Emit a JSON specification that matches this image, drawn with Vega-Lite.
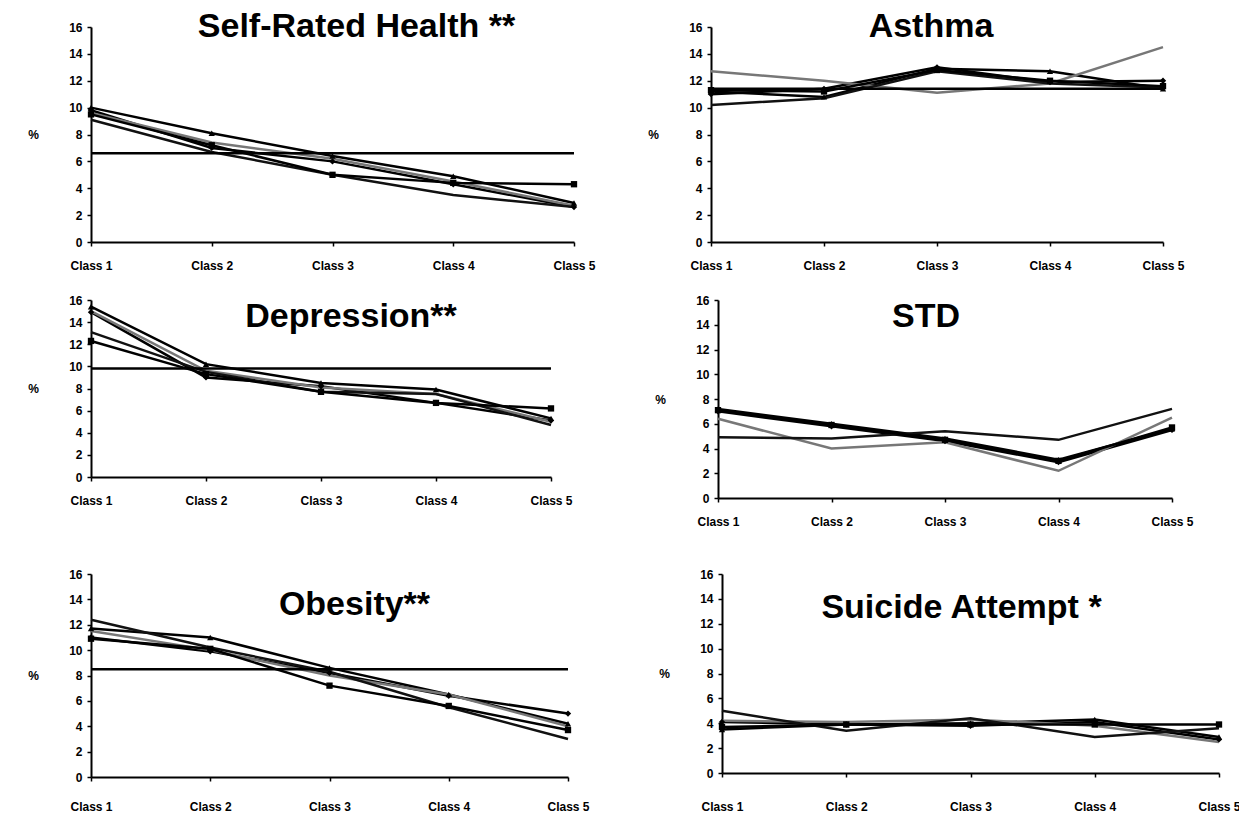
{
"$schema": "https://vega.github.io/schema/vega-lite/v6.json",
"background": "white",
"padding": {"left": 27, "top": 10, "right": 0, "bottom": 5},
"config": {
  "view": {"stroke": null},
  "font": "Liberation Sans",
  "axis": {"domainColor": "black", "domainWidth": 2, "tickColor": "black", "tickWidth": 1.5, "tickSize": 4, "labelFont": "Liberation Sans", "labelFontWeight": "bold", "labelFontSize": 12, "labelColor": "black", "grid": false, "titleFont": "Liberation Sans", "titleFontWeight": "bold", "titleFontSize": 12, "titleColor": "black"},
  "title": {"font": "Liberation Sans", "fontSize": 34, "fontWeight": "bold", "color": "black", "anchor": "middle", "frame": "group", "baseline": "alphabetic"}
},
"datasets": {
"d": [
{"panel":"SRH","series":"S1","class":"Class 1","value":10.0},{"panel":"SRH","series":"S1","class":"Class 2","value":8.1},{"panel":"SRH","series":"S1","class":"Class 3","value":6.4},{"panel":"SRH","series":"S1","class":"Class 4","value":4.9},{"panel":"SRH","series":"S1","class":"Class 5","value":2.9},
{"panel":"SRH","series":"S2","class":"Class 1","value":9.8},{"panel":"SRH","series":"S2","class":"Class 2","value":7.0},{"panel":"SRH","series":"S2","class":"Class 3","value":6.0},{"panel":"SRH","series":"S2","class":"Class 4","value":4.3},{"panel":"SRH","series":"S2","class":"Class 5","value":2.6},
{"panel":"SRH","series":"S3","class":"Class 1","value":9.6},{"panel":"SRH","series":"S3","class":"Class 2","value":7.4},{"panel":"SRH","series":"S3","class":"Class 3","value":6.2},{"panel":"SRH","series":"S3","class":"Class 4","value":4.5},{"panel":"SRH","series":"S3","class":"Class 5","value":2.7},
{"panel":"SRH","series":"S4","class":"Class 1","value":9.1},{"panel":"SRH","series":"S4","class":"Class 2","value":6.7},{"panel":"SRH","series":"S4","class":"Class 3","value":5.0},{"panel":"SRH","series":"S4","class":"Class 4","value":3.5},{"panel":"SRH","series":"S4","class":"Class 5","value":2.6},
{"panel":"SRH","series":"S5","class":"Class 1","value":9.5},{"panel":"SRH","series":"S5","class":"Class 2","value":7.2},{"panel":"SRH","series":"S5","class":"Class 3","value":5.0},{"panel":"SRH","series":"S5","class":"Class 4","value":4.4},{"panel":"SRH","series":"S5","class":"Class 5","value":4.3},
{"panel":"SRH","series":"S6","class":"Class 1","value":6.6},{"panel":"SRH","series":"S6","class":"Class 2","value":6.6},{"panel":"SRH","series":"S6","class":"Class 3","value":6.6},{"panel":"SRH","series":"S6","class":"Class 4","value":6.6},{"panel":"SRH","series":"S6","class":"Class 5","value":6.6},

{"panel":"Asthma","series":"S1","class":"Class 1","value":11.2},{"panel":"Asthma","series":"S1","class":"Class 2","value":10.8},{"panel":"Asthma","series":"S1","class":"Class 3","value":12.9},{"panel":"Asthma","series":"S1","class":"Class 4","value":12.7},{"panel":"Asthma","series":"S1","class":"Class 5","value":11.4},
{"panel":"Asthma","series":"S2","class":"Class 1","value":11.0},{"panel":"Asthma","series":"S2","class":"Class 2","value":11.4},{"panel":"Asthma","series":"S2","class":"Class 3","value":13.0},{"panel":"Asthma","series":"S2","class":"Class 4","value":11.9},{"panel":"Asthma","series":"S2","class":"Class 5","value":12.0},
{"panel":"Asthma","series":"S3","class":"Class 1","value":12.7},{"panel":"Asthma","series":"S3","class":"Class 2","value":12.0},{"panel":"Asthma","series":"S3","class":"Class 3","value":11.1},{"panel":"Asthma","series":"S3","class":"Class 4","value":11.8},{"panel":"Asthma","series":"S3","class":"Class 5","value":14.5},
{"panel":"Asthma","series":"S4","class":"Class 1","value":10.2},{"panel":"Asthma","series":"S4","class":"Class 2","value":10.7},{"panel":"Asthma","series":"S4","class":"Class 3","value":12.7},{"panel":"Asthma","series":"S4","class":"Class 4","value":11.8},{"panel":"Asthma","series":"S4","class":"Class 5","value":11.5},
{"panel":"Asthma","series":"S5","class":"Class 1","value":11.3},{"panel":"Asthma","series":"S5","class":"Class 2","value":11.2},{"panel":"Asthma","series":"S5","class":"Class 3","value":12.8},{"panel":"Asthma","series":"S5","class":"Class 4","value":12.0},{"panel":"Asthma","series":"S5","class":"Class 5","value":11.6},
{"panel":"Asthma","series":"S6","class":"Class 1","value":11.4},{"panel":"Asthma","series":"S6","class":"Class 2","value":11.4},{"panel":"Asthma","series":"S6","class":"Class 3","value":11.4},{"panel":"Asthma","series":"S6","class":"Class 4","value":11.4},{"panel":"Asthma","series":"S6","class":"Class 5","value":11.4},

{"panel":"Depression","series":"S1","class":"Class 1","value":15.4},{"panel":"Depression","series":"S1","class":"Class 2","value":10.2},{"panel":"Depression","series":"S1","class":"Class 3","value":8.5},{"panel":"Depression","series":"S1","class":"Class 4","value":7.9},{"panel":"Depression","series":"S1","class":"Class 5","value":5.3},
{"panel":"Depression","series":"S2","class":"Class 1","value":14.9},{"panel":"Depression","series":"S2","class":"Class 2","value":9.0},{"panel":"Depression","series":"S2","class":"Class 3","value":8.2},{"panel":"Depression","series":"S2","class":"Class 4","value":6.7},{"panel":"Depression","series":"S2","class":"Class 5","value":5.1},
{"panel":"Depression","series":"S3","class":"Class 1","value":15.0},{"panel":"Depression","series":"S3","class":"Class 2","value":9.6},{"panel":"Depression","series":"S3","class":"Class 3","value":8.1},{"panel":"Depression","series":"S3","class":"Class 4","value":7.5},{"panel":"Depression","series":"S3","class":"Class 5","value":5.0},
{"panel":"Depression","series":"S4","class":"Class 1","value":13.1},{"panel":"Depression","series":"S4","class":"Class 2","value":9.5},{"panel":"Depression","series":"S4","class":"Class 3","value":7.7},{"panel":"Depression","series":"S4","class":"Class 4","value":7.5},{"panel":"Depression","series":"S4","class":"Class 5","value":4.7},
{"panel":"Depression","series":"S5","class":"Class 1","value":12.3},{"panel":"Depression","series":"S5","class":"Class 2","value":9.3},{"panel":"Depression","series":"S5","class":"Class 3","value":7.7},{"panel":"Depression","series":"S5","class":"Class 4","value":6.7},{"panel":"Depression","series":"S5","class":"Class 5","value":6.2},
{"panel":"Depression","series":"S6","class":"Class 1","value":9.8},{"panel":"Depression","series":"S6","class":"Class 2","value":9.8},{"panel":"Depression","series":"S6","class":"Class 3","value":9.8},{"panel":"Depression","series":"S6","class":"Class 4","value":9.8},{"panel":"Depression","series":"S6","class":"Class 5","value":9.8},

{"panel":"STD","series":"S1","class":"Class 1","value":7.2},{"panel":"STD","series":"S1","class":"Class 2","value":6.0},{"panel":"STD","series":"S1","class":"Class 3","value":4.8},{"panel":"STD","series":"S1","class":"Class 4","value":3.1},{"panel":"STD","series":"S1","class":"Class 5","value":5.6},
{"panel":"STD","series":"S2","class":"Class 1","value":7.0},{"panel":"STD","series":"S2","class":"Class 2","value":5.8},{"panel":"STD","series":"S2","class":"Class 3","value":4.6},{"panel":"STD","series":"S2","class":"Class 4","value":2.9},{"panel":"STD","series":"S2","class":"Class 5","value":5.5},
{"panel":"STD","series":"S3","class":"Class 1","value":6.4},{"panel":"STD","series":"S3","class":"Class 2","value":4.0},{"panel":"STD","series":"S3","class":"Class 3","value":4.5},{"panel":"STD","series":"S3","class":"Class 4","value":2.2},{"panel":"STD","series":"S3","class":"Class 5","value":6.5},
{"panel":"STD","series":"S4","class":"Class 1","value":4.9},{"panel":"STD","series":"S4","class":"Class 2","value":4.8},{"panel":"STD","series":"S4","class":"Class 3","value":5.4},{"panel":"STD","series":"S4","class":"Class 4","value":4.7},{"panel":"STD","series":"S4","class":"Class 5","value":7.2},
{"panel":"STD","series":"S5","class":"Class 1","value":7.1},{"panel":"STD","series":"S5","class":"Class 2","value":5.9},{"panel":"STD","series":"S5","class":"Class 3","value":4.7},{"panel":"STD","series":"S5","class":"Class 4","value":3.0},{"panel":"STD","series":"S5","class":"Class 5","value":5.7},

{"panel":"Obesity","series":"S1","class":"Class 1","value":11.7},{"panel":"Obesity","series":"S1","class":"Class 2","value":11.0},{"panel":"Obesity","series":"S1","class":"Class 3","value":8.6},{"panel":"Obesity","series":"S1","class":"Class 4","value":6.5},{"panel":"Obesity","series":"S1","class":"Class 5","value":4.2},
{"panel":"Obesity","series":"S2","class":"Class 1","value":11.0},{"panel":"Obesity","series":"S2","class":"Class 2","value":9.9},{"panel":"Obesity","series":"S2","class":"Class 3","value":8.2},{"panel":"Obesity","series":"S2","class":"Class 4","value":6.4},{"panel":"Obesity","series":"S2","class":"Class 5","value":5.0},
{"panel":"Obesity","series":"S3","class":"Class 1","value":11.5},{"panel":"Obesity","series":"S3","class":"Class 2","value":10.0},{"panel":"Obesity","series":"S3","class":"Class 3","value":8.0},{"panel":"Obesity","series":"S3","class":"Class 4","value":6.5},{"panel":"Obesity","series":"S3","class":"Class 5","value":4.0},
{"panel":"Obesity","series":"S4","class":"Class 1","value":12.4},{"panel":"Obesity","series":"S4","class":"Class 2","value":10.2},{"panel":"Obesity","series":"S4","class":"Class 3","value":8.3},{"panel":"Obesity","series":"S4","class":"Class 4","value":5.5},{"panel":"Obesity","series":"S4","class":"Class 5","value":3.0},
{"panel":"Obesity","series":"S5","class":"Class 1","value":10.9},{"panel":"Obesity","series":"S5","class":"Class 2","value":10.1},{"panel":"Obesity","series":"S5","class":"Class 3","value":7.2},{"panel":"Obesity","series":"S5","class":"Class 4","value":5.6},{"panel":"Obesity","series":"S5","class":"Class 5","value":3.7},
{"panel":"Obesity","series":"S6","class":"Class 1","value":8.5},{"panel":"Obesity","series":"S6","class":"Class 2","value":8.5},{"panel":"Obesity","series":"S6","class":"Class 3","value":8.5},{"panel":"Obesity","series":"S6","class":"Class 4","value":8.5},{"panel":"Obesity","series":"S6","class":"Class 5","value":8.5},

{"panel":"Suicide","series":"S1","class":"Class 1","value":3.5},{"panel":"Suicide","series":"S1","class":"Class 2","value":3.9},{"panel":"Suicide","series":"S1","class":"Class 3","value":4.0},{"panel":"Suicide","series":"S1","class":"Class 4","value":4.3},{"panel":"Suicide","series":"S1","class":"Class 5","value":2.9},
{"panel":"Suicide","series":"S2","class":"Class 1","value":4.1},{"panel":"Suicide","series":"S2","class":"Class 2","value":3.9},{"panel":"Suicide","series":"S2","class":"Class 3","value":3.8},{"panel":"Suicide","series":"S2","class":"Class 4","value":4.1},{"panel":"Suicide","series":"S2","class":"Class 5","value":2.7},
{"panel":"Suicide","series":"S3","class":"Class 1","value":4.2},{"panel":"Suicide","series":"S3","class":"Class 2","value":4.1},{"panel":"Suicide","series":"S3","class":"Class 3","value":4.3},{"panel":"Suicide","series":"S3","class":"Class 4","value":3.8},{"panel":"Suicide","series":"S3","class":"Class 5","value":2.5},
{"panel":"Suicide","series":"S4","class":"Class 1","value":5.0},{"panel":"Suicide","series":"S4","class":"Class 2","value":3.4},{"panel":"Suicide","series":"S4","class":"Class 3","value":4.4},{"panel":"Suicide","series":"S4","class":"Class 4","value":2.9},{"panel":"Suicide","series":"S4","class":"Class 5","value":3.6},
{"panel":"Suicide","series":"S5","class":"Class 1","value":3.7},{"panel":"Suicide","series":"S5","class":"Class 2","value":3.9},{"panel":"Suicide","series":"S5","class":"Class 3","value":3.9},{"panel":"Suicide","series":"S5","class":"Class 4","value":3.9},{"panel":"Suicide","series":"S5","class":"Class 5","value":3.9}
]
},
"data": {"name": "d"},
"spacing": 41,
"vconcat": [
 {"spacing": 23, "vconcat": [
  {"spacing": 51, "hconcat": [
   {"title": {"text": "Self-Rated Health **", "offset": -23, "dx": 24}, "width": 483, "height": 215,
    "transform": [{"filter": "datum.panel == 'SRH'"}],
    "encoding": {"x": {"field": "class", "type": "ordinal", "scale": {"padding": 0}, "axis": {"title": null, "labelAngle": 0, "labelPadding": 14}}, "y": {"field": "value", "type": "quantitative", "scale": {"domain": [0, 16]}, "axis": {"values": [0,2,4,6,8,10,12,14,16], "title": "%", "titleAngle": 0, "titleX": -58, "titleBaseline": "middle", "titleAlign": "center", "labelPadding": 5}}},
    "layer": [
     {"mark": {"type": "line"}, "encoding": {"detail": {"field": "series"}, "color": {"field": "series", "scale": {"domain": ["S1","S2","S3","S4","S5","S6"], "range": ["#000000","#000000","#777777","#111111","#000000","#000000"]}, "legend": null}, "strokeWidth": {"field": "series", "scale": {"domain": ["S1","S2","S3","S4","S5","S6"], "range": [2.5,2.5,1,2,2,2]}, "legend": null}}},
     {"mark": {"type": "point", "filled": true, "size": 40, "color": "black", "opacity": 1}, "transform": [{"filter": {"field": "series", "oneOf": ["S1","S2","S5"]}}], "encoding": {"shape": {"field": "series", "scale": {"domain": ["S1","S2","S5"], "range": ["triangle-up","diamond","square"]}, "legend": null}}}
    ]},
   {"title": {"text": "Asthma", "offset": -23, "dx": -6}, "width": 452, "height": 215,
    "transform": [{"filter": "datum.panel == 'Asthma'"}],
    "encoding": {"x": {"field": "class", "type": "ordinal", "scale": {"padding": 0}, "axis": {"title": null, "labelAngle": 0, "labelPadding": 14}}, "y": {"field": "value", "type": "quantitative", "scale": {"domain": [0, 16]}, "axis": {"values": [0,2,4,6,8,10,12,14,16], "title": "%", "titleAngle": 0, "titleX": -58, "titleBaseline": "middle", "titleAlign": "center", "labelPadding": 5}}},
    "layer": [
     {"mark": {"type": "line"}, "encoding": {"detail": {"field": "series"}, "color": {"field": "series", "scale": {"domain": ["S1","S2","S3","S4","S5","S6"], "range": ["#000000","#000000","#777777","#111111","#000000","#000000"]}, "legend": null}, "strokeWidth": {"field": "series", "scale": {"domain": ["S1","S2","S3","S4","S5","S6"], "range": [2.5,2.5,1,2,2,2]}, "legend": null}}},
     {"mark": {"type": "point", "filled": true, "size": 40, "color": "black", "opacity": 1}, "transform": [{"filter": {"field": "series", "oneOf": ["S1","S2","S5"]}}], "encoding": {"shape": {"field": "series", "scale": {"domain": ["S1","S2","S5"], "range": ["triangle-up","diamond","square"]}, "legend": null}}}
    ]}
  ]},
  {"spacing": 81, "hconcat": [
   {"title": {"text": "Depression**", "offset": -40, "dx": 30}, "width": 460, "height": 177,
    "transform": [{"filter": "datum.panel == 'Depression'"}],
    "encoding": {"x": {"field": "class", "type": "ordinal", "scale": {"padding": 0}, "axis": {"title": null, "labelAngle": 0, "labelPadding": 14}}, "y": {"field": "value", "type": "quantitative", "scale": {"domain": [0, 16]}, "axis": {"values": [0,2,4,6,8,10,12,14,16], "title": "%", "titleAngle": 0, "titleX": -58, "titleBaseline": "middle", "titleAlign": "center", "labelPadding": 5}}},
    "layer": [
     {"mark": {"type": "line"}, "encoding": {"detail": {"field": "series"}, "color": {"field": "series", "scale": {"domain": ["S1","S2","S3","S4","S5","S6"], "range": ["#000000","#000000","#777777","#111111","#000000","#000000"]}, "legend": null}, "strokeWidth": {"field": "series", "scale": {"domain": ["S1","S2","S3","S4","S5","S6"], "range": [2.5,2.5,1,2,2,2]}, "legend": null}}},
     {"mark": {"type": "point", "filled": true, "size": 40, "color": "black", "opacity": 1}, "transform": [{"filter": {"field": "series", "oneOf": ["S1","S2","S5"]}}], "encoding": {"shape": {"field": "series", "scale": {"domain": ["S1","S2","S5"], "range": ["triangle-up","diamond","square"]}, "legend": null}}}
    ]},
   {"title": {"text": "STD", "offset": -40, "dx": -19}, "width": 454, "height": 198,
    "transform": [{"filter": "datum.panel == 'STD'"}],
    "encoding": {"x": {"field": "class", "type": "ordinal", "scale": {"padding": 0}, "axis": {"title": null, "labelAngle": 0, "labelPadding": 14}}, "y": {"field": "value", "type": "quantitative", "scale": {"domain": [0, 16]}, "axis": {"values": [0,2,4,6,8,10,12,14,16], "title": "%", "titleAngle": 0, "titleX": -58, "titleBaseline": "middle", "titleAlign": "center", "labelPadding": 5}}},
    "layer": [
     {"mark": {"type": "line"}, "encoding": {"detail": {"field": "series"}, "color": {"field": "series", "scale": {"domain": ["S1","S2","S3","S4","S5","S6"], "range": ["#000000","#000000","#777777","#111111","#000000","#000000"]}, "legend": null}, "strokeWidth": {"field": "series", "scale": {"domain": ["S1","S2","S3","S4","S5","S6"], "range": [2.5,2.5,1,2,2,2]}, "legend": null}}},
     {"mark": {"type": "point", "filled": true, "size": 40, "color": "black", "opacity": 1}, "transform": [{"filter": {"field": "series", "oneOf": ["S1","S2","S5"]}}], "encoding": {"shape": {"field": "series", "scale": {"domain": ["S1","S2","S5"], "range": ["triangle-up","diamond","square"]}, "legend": null}}}
    ]}
  ]}
 ]},
 {"spacing": 68, "hconcat": [
   {"title": {"text": "Obesity**", "offset": -54, "dx": 25}, "width": 477, "height": 203,
    "transform": [{"filter": "datum.panel == 'Obesity'"}],
    "encoding": {"x": {"field": "class", "type": "ordinal", "scale": {"padding": 0}, "axis": {"title": null, "labelAngle": 0, "labelPadding": 20}}, "y": {"field": "value", "type": "quantitative", "scale": {"domain": [0, 16]}, "axis": {"values": [0,2,4,6,8,10,12,14,16], "title": "%", "titleAngle": 0, "titleX": -58, "titleBaseline": "middle", "titleAlign": "center", "labelPadding": 5}}},
    "layer": [
     {"mark": {"type": "line"}, "encoding": {"detail": {"field": "series"}, "color": {"field": "series", "scale": {"domain": ["S1","S2","S3","S4","S5","S6"], "range": ["#000000","#000000","#777777","#111111","#000000","#000000"]}, "legend": null}, "strokeWidth": {"field": "series", "scale": {"domain": ["S1","S2","S3","S4","S5","S6"], "range": [2.5,2.5,1,2,2,2]}, "legend": null}}},
     {"mark": {"type": "point", "filled": true, "size": 40, "color": "black", "opacity": 1}, "transform": [{"filter": {"field": "series", "oneOf": ["S1","S2","S5"]}}], "encoding": {"shape": {"field": "series", "scale": {"domain": ["S1","S2","S5"], "range": ["triangle-up","diamond","square"]}, "legend": null}}}
    ]},
   {"title": {"text": "Suicide Attempt *", "offset": -57, "dx": -9}, "width": 497, "height": 199,
    "transform": [{"filter": "datum.panel == 'Suicide'"}],
    "encoding": {"x": {"field": "class", "type": "ordinal", "scale": {"padding": 0}, "axis": {"title": null, "labelAngle": 0, "labelPadding": 24}}, "y": {"field": "value", "type": "quantitative", "scale": {"domain": [0, 16]}, "axis": {"values": [0,2,4,6,8,10,12,14,16], "title": "%", "titleAngle": 0, "titleX": -58, "titleBaseline": "middle", "titleAlign": "center", "labelPadding": 5}}},
    "layer": [
     {"mark": {"type": "line"}, "encoding": {"detail": {"field": "series"}, "color": {"field": "series", "scale": {"domain": ["S1","S2","S3","S4","S5","S6"], "range": ["#000000","#000000","#777777","#111111","#000000","#000000"]}, "legend": null}, "strokeWidth": {"field": "series", "scale": {"domain": ["S1","S2","S3","S4","S5","S6"], "range": [2.5,2.5,1,2,2,2]}, "legend": null}}},
     {"mark": {"type": "point", "filled": true, "size": 40, "color": "black", "opacity": 1}, "transform": [{"filter": {"field": "series", "oneOf": ["S1","S2","S5"]}}], "encoding": {"shape": {"field": "series", "scale": {"domain": ["S1","S2","S5"], "range": ["triangle-up","diamond","square"]}, "legend": null}}}
    ]}
 ]}
]
}
